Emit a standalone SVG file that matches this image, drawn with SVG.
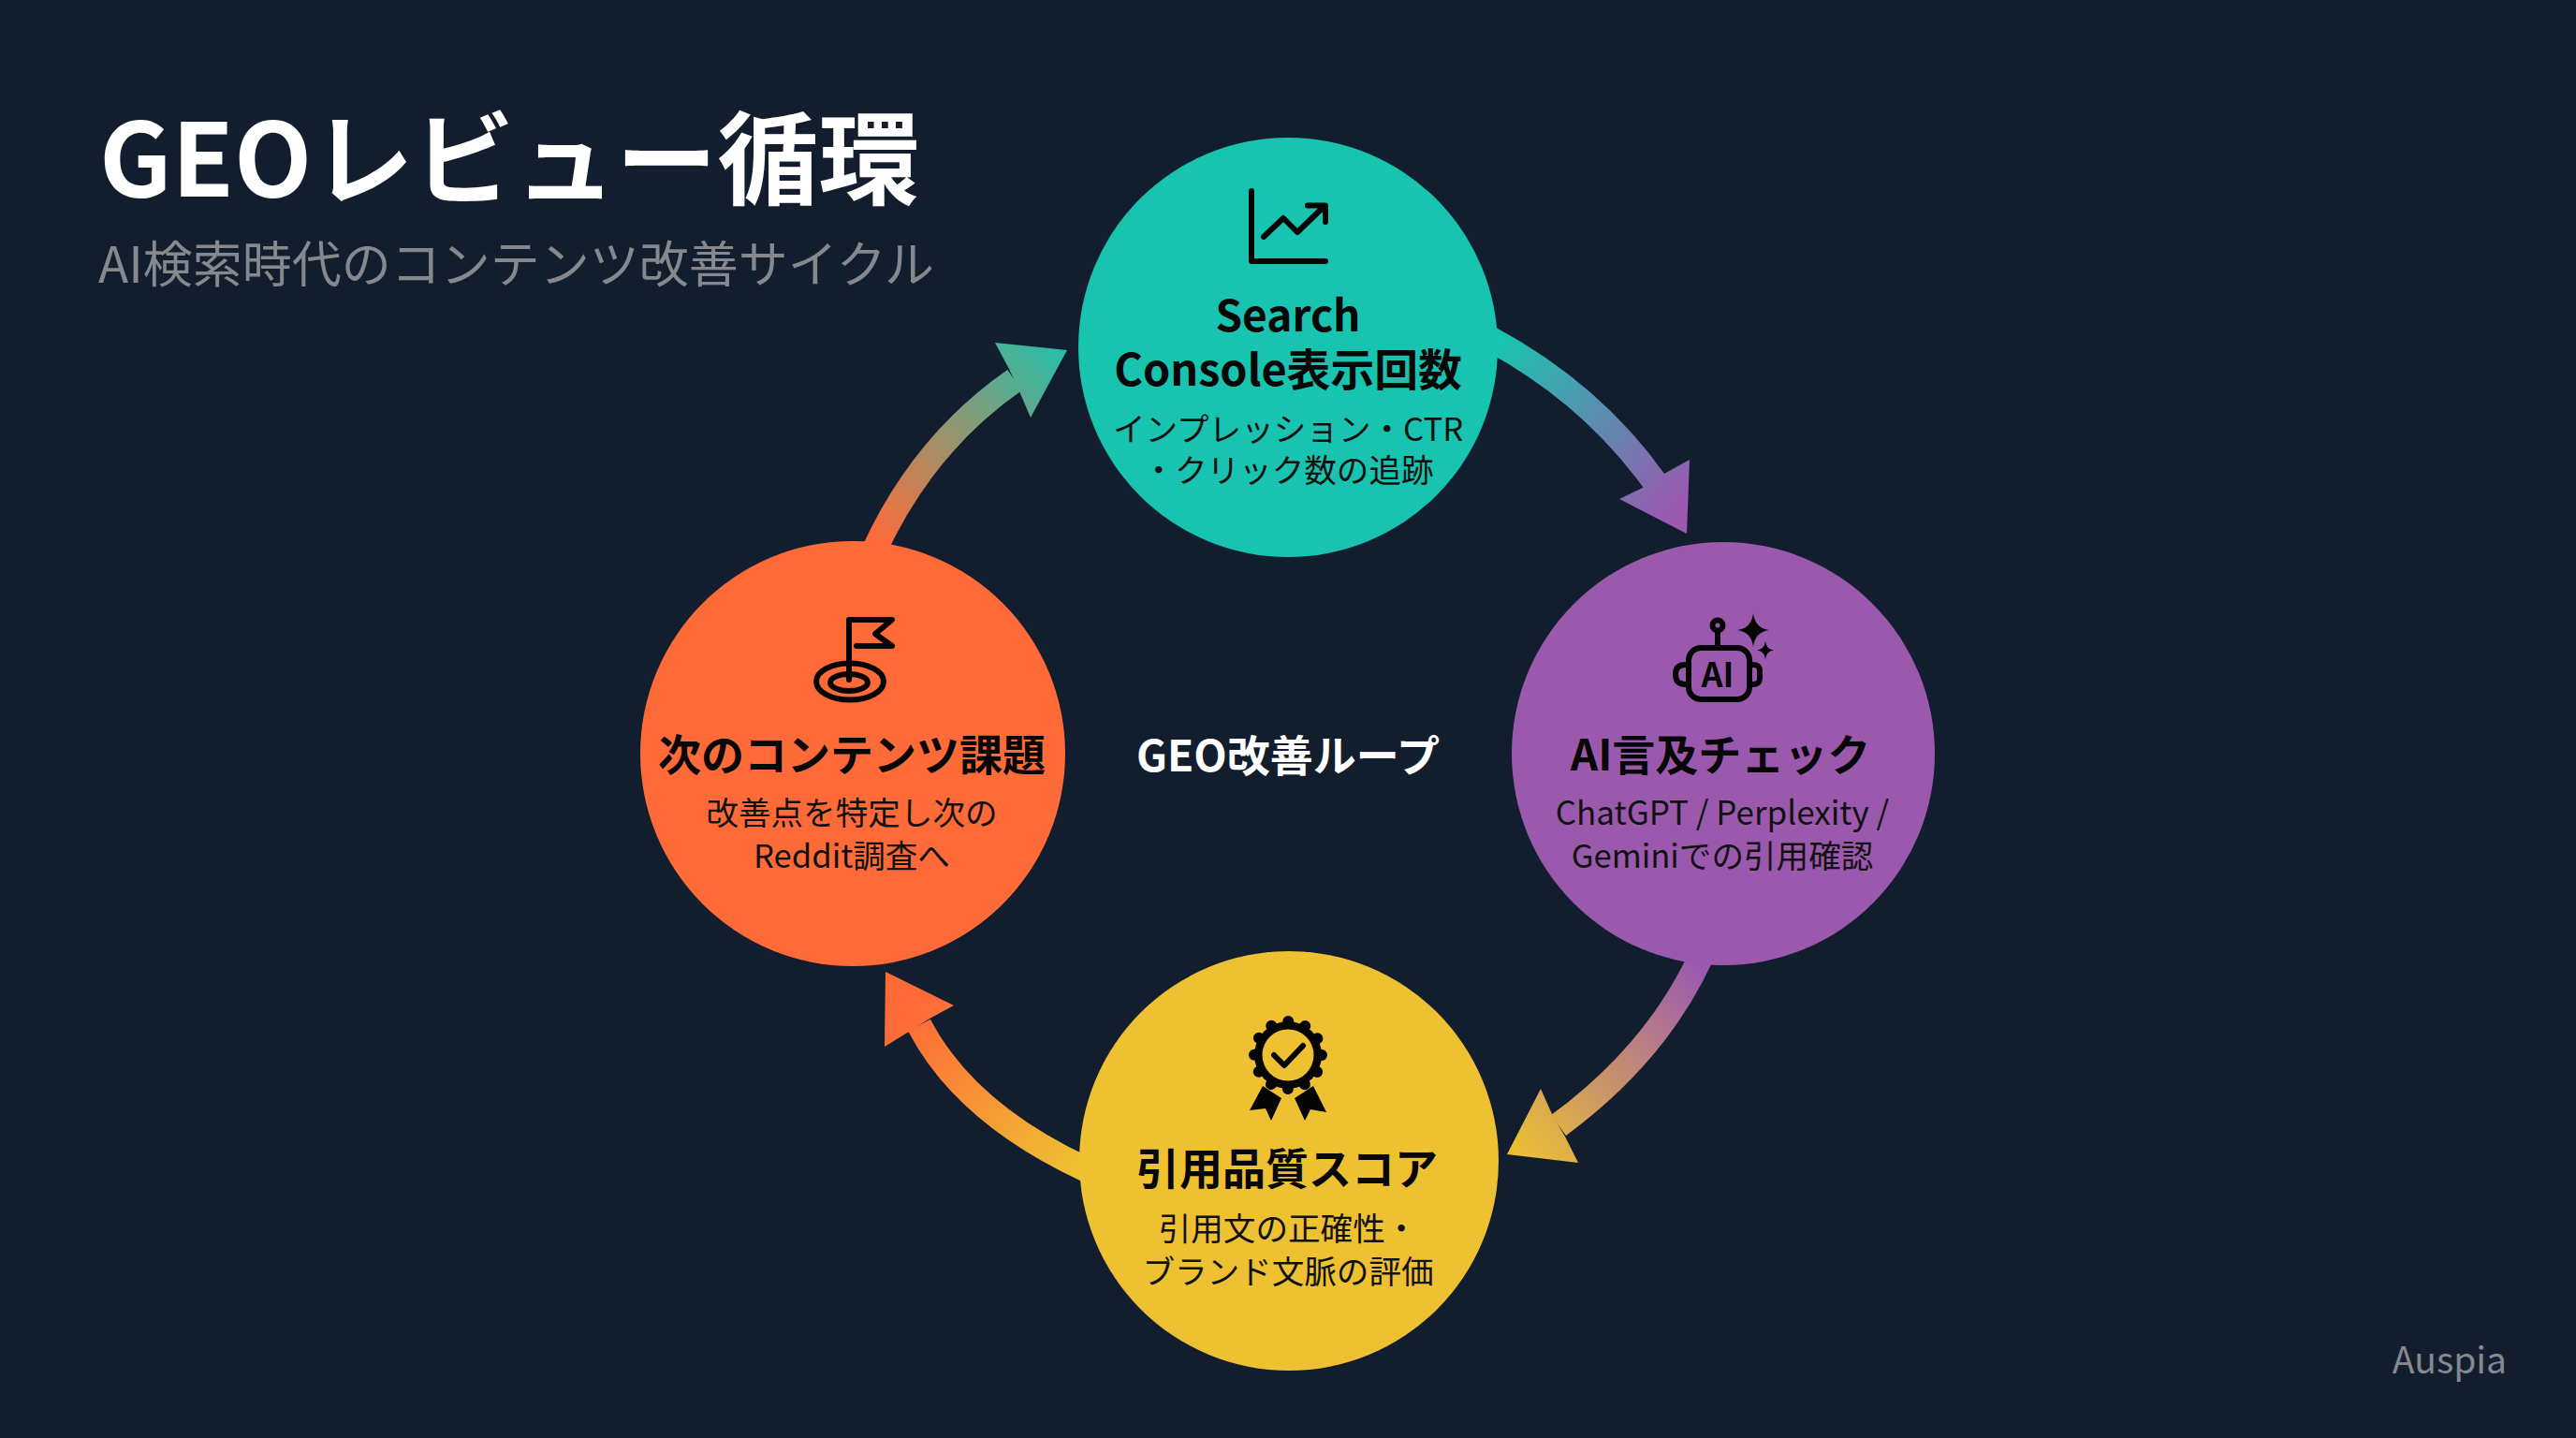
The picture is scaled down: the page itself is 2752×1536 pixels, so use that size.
<svg xmlns="http://www.w3.org/2000/svg" width="2752" height="1536" viewBox="0 0 2752 1536">
<style>
text{font-family:"Noto Sans CJK JP","Noto Sans",sans-serif}
.t{font-size:46px;font-weight:700;fill:#070707;text-anchor:middle}
.s{font-size:34.600px;font-weight:400;fill:#111111;text-anchor:middle}
.ln{fill:none;stroke:#050505;stroke-width:6;stroke-linecap:round;stroke-linejoin:round}
.shaft{fill:none;stroke-width:27}
</style>
<defs>
<linearGradient id="g1" gradientUnits="userSpaceOnUse" x1="1600" y1="367" x2="1790" y2="545"><stop offset="0" stop-color="#18c4b0"/><stop offset="1" stop-color="#9b59b0"/></linearGradient>
<linearGradient id="g2" gradientUnits="userSpaceOnUse" x1="1815" y1="1030" x2="1615" y2="1235"><stop offset="0" stop-color="#9b59b0"/><stop offset="1" stop-color="#edc132"/></linearGradient>
<linearGradient id="g3" gradientUnits="userSpaceOnUse" x1="1152" y1="1245" x2="985" y2="1075"><stop offset="0" stop-color="#edc132"/><stop offset="1" stop-color="#ff6b38"/></linearGradient>
<linearGradient id="g4" gradientUnits="userSpaceOnUse" x1="937" y1="582" x2="1150" y2="360"><stop offset="0" stop-color="#ff6b38"/><stop offset="1" stop-color="#18c4b0"/></linearGradient>
</defs>
<rect id="background" width="2752" height="1536" fill="#121e2e"/>
<g id="header">
<text x="106" y="210" font-size="108.200" font-weight="700" fill="#ffffff">GEOレビュー循環</text>
<text x="105" y="302" font-size="53" font-weight="400" fill="#85898e">AI検索時代のコンテンツ改善サイクル</text>
</g>
<g id="connectors">
<g id="arrow-1"><path class="shaft" stroke="url(#g1)" d="M1592,362 Q1700,420 1768,515"/><polygon fill="url(#g1)" points="1802,570 1805,491 1778,506 1755,521 1730,533"/></g>
<g id="arrow-2"><path class="shaft" stroke="url(#g2)" d="M1818,1020 Q1770,1125 1665,1202"/><polygon fill="url(#g2)" points="1610,1233 1646,1163 1658,1190 1672,1214 1686,1242"/></g>
<g id="arrow-3"><path class="shaft" stroke="url(#g3)" d="M1160,1249 Q1031,1189 982,1095"/><polygon fill="url(#g3)" points="946,1038 1019,1074 993,1088 971,1102 945,1118"/></g>
<g id="arrow-4"><path class="shaft" stroke="url(#g4)" d="M933,590 Q986,474 1084,406"/><polygon fill="url(#g4)" points="1140,374 1063,366 1078,394 1089,418 1101,446"/></g>
</g>
<g id="node-search-console">
<circle cx="1376" cy="371" r="224" fill="#18c4b0"/>
<path class="ln" d="M1337,204V279H1416"/>
<path class="ln" d="M1350,253L1371,233L1386,248L1414,221M1397,219.500H1416V237"/>
<text class="t" x="1376" y="354">Search</text>
<text class="t" x="1376" y="412" style="font-size:46.800px">Console表示回数</text>
<text class="s" x="1376" y="471">インプレッション・CTR</text>
<text class="s" x="1376" y="515">・クリック数の追跡</text>
</g>
<g id="node-ai-check">
<circle cx="1841" cy="805" r="226" fill="#9b59ae"/>
<rect class="ln" x="1804" y="692" width="65" height="55" rx="13"/>
<path class="ln" d="M1801,710C1792,710 1790,715 1790,720C1790,726 1792,731 1801,731M1872,710C1881,710 1880,715 1880,720C1880,726 1881,731 1872,731"/>
<path class="ln" d="M1835,674V690"/>
<circle class="ln" cx="1835" cy="668" r="5.500"/>
<text x="1835" y="734" font-size="36" font-weight="700" fill="#070707" text-anchor="middle">AI</text>
<path fill="#050505" d="M1873,655Q1875,671 1890,673Q1875,675 1873,691Q1871,675 1856,673Q1871,671 1873,655Z"/>
<path fill="#050505" d="M1886,685Q1887,693.500 1895,694.500Q1887,695.500 1886,704Q1885,695.500 1877,694.500Q1885,693.500 1886,685Z"/>
<text class="t" x="1838" y="823">AI言及チェック</text>
<text class="s" x="1840" y="881" style="font-size:35px">ChatGPT / Perplexity /</text>
<text class="s" x="1840" y="927">Geminiでの引用確認</text>
</g>
<g id="node-quality-score">
<circle cx="1377" cy="1240" r="224" fill="#edc132"/>
<circle cx="1376" cy="1127" r="36" fill="#050505"/>
<circle cx="1376" cy="1127" r="36" fill="none" stroke="#050505" stroke-width="12" stroke-linecap="round" stroke-dasharray="0 18.850"/>
<circle cx="1376" cy="1127" r="27.500" fill="#edc132"/>
<path class="ln" d="M1361,1127L1372,1138L1392,1117"/>
<polygon fill="#050505" points="1349,1160 1369,1173 1358,1197 1352,1184 1335,1186"/>
<polygon fill="#050505" points="1403,1160 1383,1173 1394,1197 1400,1185 1417,1188"/>
<text class="t" x="1375" y="1265">引用品質スコア</text>
<text class="s" x="1376" y="1325">引用文の正確性・</text>
<text class="s" x="1376" y="1371">ブランド文脈の評価</text>
</g>
<g id="node-next-topic">
<circle cx="911" cy="805" r="227" fill="#ff6b38"/>
<path class="ln" d="M907,726V662H953L935,677L953,690H915"/>
<ellipse class="ln" cx="908" cy="728" rx="36" ry="19.500"/>
<ellipse class="ln" cx="907" cy="729" rx="20" ry="9"/>
<text class="t" x="910" y="823">次のコンテンツ課題</text>
<text class="s" x="910" y="881">改善点を特定し次の</text>
<text class="s" x="910" y="927">Reddit調査へ</text>
</g>
<g id="center-label"><text x="1376" y="824" font-size="46" font-weight="700" fill="#ffffff" text-anchor="middle">GEO改善ループ</text></g>
<g id="brand"><text x="2678" y="1467" font-size="39" font-weight="400" fill="#85898e" text-anchor="end">Auspia</text></g>
</svg>
